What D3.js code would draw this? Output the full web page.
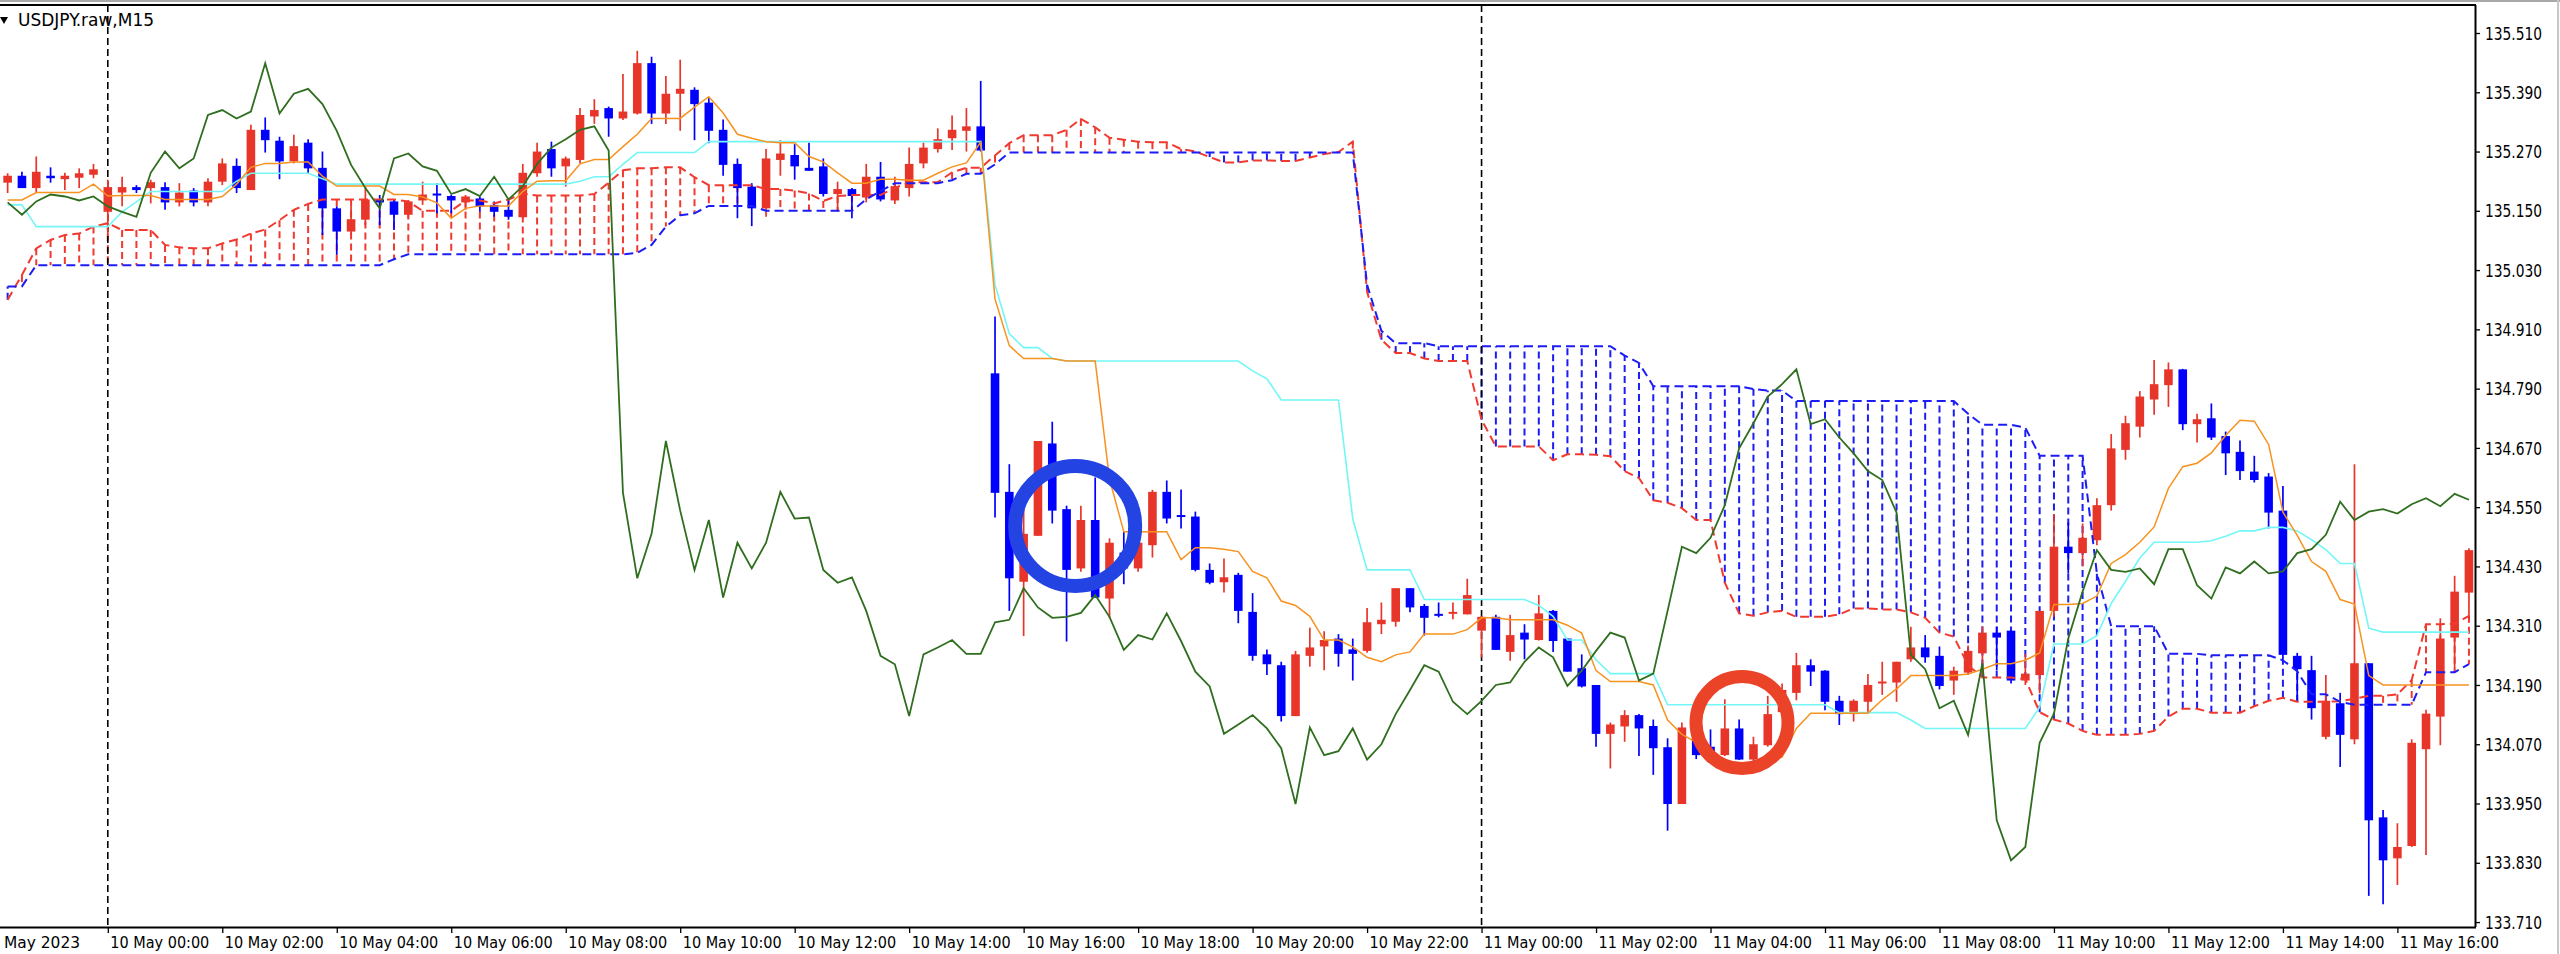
<!DOCTYPE html>
<html><head><meta charset="utf-8">
<script src="https://cdn.jsdelivr.net/npm/d3@7"></script>
<style>html,body{margin:0;padding:0;background:#fff;overflow:hidden}</style>
</head><body>
<svg id="c" width="2560" height="954" xmlns="http://www.w3.org/2000/svg"></svg>
<script>
// ---- DATA (bar index -7 .. 165, M15 bars, index 0 = 10 May 00:00) ----
const firstBar = -7;
const opens = [
135.207,135.221,135.196,135.221,135.214,135.217,135.223,135.148,135.187,135.198,
135.196,135.198,135.167,135.191,135.167,135.209,135.241,135.192,135.314,135.292,
135.250,135.288,135.237,135.155,135.108,135.132,135.173,135.169,135.142,135.171,
135.183,135.180,135.167,135.175,135.162,135.152,135.137,135.226,135.275,135.240,
135.253,135.341,135.358,135.337,135.347,135.449,135.347,135.387,135.395,135.369,
135.314,135.245,135.199,135.155,135.253,135.263,135.237,135.240,135.184,135.194,
135.177,135.219,135.171,135.196,135.246,135.275,135.297,135.312,135.321,134.821,
134.581,134.399,134.492,134.679,134.546,134.426,134.524,134.365,134.458,134.426,
134.473,134.581,134.532,134.531,134.423,134.398,134.413,134.338,134.252,134.230,
134.127,134.249,134.268,134.284,134.262,134.259,134.313,134.318,134.386,134.350,
134.332,134.333,134.333,134.300,134.328,134.257,134.296,134.281,134.340,134.284,
134.224,134.190,134.091,134.106,134.129,134.107,134.064,133.949,134.100,134.065,
134.048,134.102,134.039,134.068,134.135,134.174,134.230,134.219,134.158,134.131,
134.156,134.193,134.195,134.242,134.266,134.249,134.199,134.215,134.254,134.296,
134.300,134.199,134.210,134.340,134.470,134.457,134.483,134.554,134.666,134.713,
134.768,134.797,134.829,134.718,134.730,134.694,134.662,134.622,134.612,134.543,
134.249,134.220,134.085,134.153,134.080,134.234,133.922,133.839,133.864,134.060,
134.126,134.286,134.377];
const highs = [
135.226,135.229,135.260,135.238,135.227,135.236,135.245,135.213,135.219,135.202,
135.213,135.208,135.206,135.196,135.216,135.256,135.256,135.324,135.339,135.300,
135.304,135.295,135.270,135.159,135.159,135.198,135.182,135.172,135.172,135.209,
135.206,135.182,135.182,135.179,135.169,135.175,135.245,135.288,135.290,135.260,
135.358,135.376,135.361,135.427,135.474,135.462,135.423,135.456,135.400,135.378,
135.335,135.256,135.206,135.275,135.293,135.285,135.288,135.256,135.209,135.196,
135.245,135.249,135.219,135.278,135.288,135.317,135.343,135.358,135.413,134.936,
134.637,134.558,134.684,134.723,134.553,134.553,134.610,134.487,134.500,134.480,
134.585,134.604,134.586,134.541,134.436,134.446,134.417,134.376,134.262,134.237,
134.259,134.306,134.299,134.293,134.284,134.346,134.357,134.386,134.386,134.354,
134.357,134.357,134.405,134.330,134.332,134.332,134.313,134.372,134.342,134.284,
134.252,134.190,134.114,134.139,134.131,134.120,134.082,134.114,134.110,134.100,
134.161,134.120,134.085,134.168,134.193,134.255,134.242,134.220,134.168,134.161,
134.212,134.237,134.237,134.308,134.291,134.268,134.227,134.270,134.309,134.308,
134.300,134.253,134.340,134.536,134.519,134.517,134.568,134.698,134.735,134.785,
134.848,134.843,134.830,134.739,134.760,134.703,134.685,134.654,134.619,134.593,
134.255,134.249,134.210,134.174,134.637,134.234,133.937,133.910,134.080,134.140,
134.325,134.411,134.467];
const lows = [
135.186,135.196,135.186,135.207,135.192,135.196,135.216,135.101,135.159,135.186,
135.165,135.152,135.159,135.159,135.159,135.202,135.186,135.192,135.268,135.214,
135.246,135.226,135.101,135.061,135.101,135.121,135.121,135.111,135.135,135.162,
135.145,135.145,135.152,135.148,135.138,135.132,135.135,135.219,135.219,135.199,
135.246,135.326,135.300,135.334,135.345,135.326,135.326,135.312,135.293,135.287,
135.221,135.135,135.119,135.138,135.221,135.213,135.231,135.179,135.148,135.135,
135.167,135.169,135.164,135.179,135.236,135.268,135.273,135.270,135.270,134.529,
134.340,134.289,134.492,134.517,134.278,134.419,134.367,134.325,134.394,134.419,
134.448,134.517,134.507,134.420,134.394,134.377,134.315,134.239,134.210,134.116,
134.127,134.227,134.220,134.227,134.199,134.255,134.293,134.308,134.337,134.290,
134.327,134.323,134.333,134.246,134.261,134.239,134.242,134.280,134.257,134.217,
134.185,134.065,134.021,134.075,134.046,134.008,133.895,133.949,134.040,134.052,
134.046,134.038,134.011,134.065,134.130,134.159,134.188,134.139,134.109,134.116,
134.134,134.170,134.156,134.237,134.235,134.181,134.170,134.210,134.210,134.220,
134.193,134.190,134.173,134.328,134.416,134.430,134.473,134.543,134.646,134.691,
134.737,134.753,134.706,134.681,134.686,134.615,134.605,134.600,134.507,134.237,
134.156,134.120,134.080,134.024,134.070,133.763,133.746,133.785,133.862,133.846,
134.068,134.224,134.323];
const closes = [
135.221,135.196,135.229,135.216,135.221,135.226,135.234,135.198,135.198,135.192,
135.208,135.167,135.187,135.167,135.209,135.246,135.196,135.314,135.293,135.250,
135.281,135.236,135.155,135.108,135.133,135.173,135.167,135.142,135.169,135.183,
135.179,135.171,135.179,135.159,135.148,135.138,135.227,135.270,135.236,135.256,
135.344,135.354,135.337,135.351,135.449,135.347,135.387,135.397,135.366,135.312,
135.243,135.196,135.155,135.256,135.266,135.240,135.231,135.184,135.194,135.180,
135.219,135.173,135.200,135.245,135.278,135.295,135.314,135.321,135.272,134.579,
134.406,134.496,134.684,134.543,134.423,134.524,134.367,134.478,134.426,134.478,
134.581,134.527,134.529,134.423,134.397,134.408,134.340,134.249,134.232,134.127,
134.252,134.266,134.281,134.253,134.253,134.317,134.322,134.386,134.347,134.326,
134.328,134.336,134.372,134.328,134.261,134.291,134.282,134.335,134.279,134.217,
134.187,134.091,134.110,134.129,134.102,134.062,133.949,134.104,134.048,134.056,
134.102,134.039,134.070,134.131,134.180,134.230,134.217,134.156,134.131,134.158,
134.190,134.195,134.237,134.266,134.246,134.188,134.219,134.259,134.296,134.286,
134.199,134.213,134.340,134.470,134.457,134.488,134.554,134.669,134.720,134.774,
134.799,134.829,134.718,134.728,134.691,134.659,134.623,134.605,134.539,134.251,
134.222,134.143,134.158,134.089,134.234,133.916,133.835,133.862,134.073,134.132,
134.284,134.379,134.463];
const tenkan = [
135.172,135.172,135.187,135.187,135.187,135.187,135.204,135.180,135.181,135.181,
135.181,135.173,135.173,135.173,135.173,135.179,135.204,135.238,135.246,135.246,
135.249,135.249,135.220,135.200,135.200,135.200,135.200,135.183,135.183,135.178,
135.166,135.135,135.155,135.160,135.160,135.160,135.189,135.210,135.211,135.211,
135.245,135.254,135.254,135.280,135.305,135.337,135.337,135.337,135.360,135.381,
135.348,135.305,135.297,135.290,135.288,135.288,135.260,135.249,135.227,135.206,
135.206,135.214,135.214,135.212,135.212,135.226,135.239,135.247,135.289,134.971,
134.877,134.851,134.851,134.851,134.846,134.846,134.846,134.607,134.500,134.500,
134.500,134.500,134.444,134.468,134.468,134.465,134.460,134.420,134.407,134.360,
134.351,134.329,134.281,134.281,134.267,134.246,134.237,134.251,134.257,134.293,
134.293,134.293,134.302,134.326,134.326,134.322,134.322,134.322,134.322,134.311,
134.295,134.219,134.197,134.197,134.197,134.190,134.119,134.090,134.074,134.043,
134.028,134.028,134.028,134.032,134.044,134.102,134.133,134.133,134.133,134.133,
134.133,134.160,134.182,134.209,134.209,134.209,134.209,134.212,134.222,134.233,
134.233,134.240,134.255,134.353,134.353,134.355,134.370,134.436,134.454,134.479,
134.510,134.588,134.632,134.639,134.660,134.695,134.726,134.724,134.677,134.540,
134.493,134.440,134.420,134.363,134.354,134.209,134.190,134.190,134.190,134.190,
134.190,134.190,134.190];
const kijun = [
135.162,135.162,135.118,135.118,135.118,135.118,135.118,135.118,135.148,135.168,
135.189,135.189,135.189,135.189,135.189,135.189,135.210,135.226,135.226,135.226,
135.226,135.226,135.215,135.204,135.204,135.204,135.204,135.204,135.204,135.204,
135.204,135.204,135.204,135.204,135.204,135.204,135.204,135.204,135.204,135.204,
135.210,135.219,135.219,135.244,135.268,135.268,135.268,135.268,135.268,135.290,
135.290,135.290,135.290,135.290,135.290,135.290,135.290,135.290,135.290,135.290,
135.290,135.290,135.290,135.290,135.290,135.290,135.290,135.290,135.290,135.000,
134.901,134.873,134.873,134.851,134.846,134.846,134.846,134.846,134.846,134.846,
134.846,134.846,134.846,134.846,134.846,134.846,134.846,134.826,134.810,134.767,
134.767,134.767,134.767,134.767,134.526,134.423,134.423,134.423,134.423,134.363,
134.363,134.363,134.363,134.363,134.363,134.363,134.363,134.351,134.329,134.281,
134.281,134.241,134.213,134.213,134.213,134.213,134.150,134.150,134.150,134.150,
134.150,134.150,134.150,134.150,134.150,134.150,134.150,134.150,134.134,134.134,
134.134,134.134,134.134,134.119,134.102,134.102,134.102,134.102,134.102,134.102,
134.102,134.102,134.145,134.273,134.273,134.273,134.290,134.355,134.400,134.447,
134.479,134.479,134.479,134.479,134.482,134.491,134.502,134.502,134.509,134.509,
134.502,134.484,134.464,134.436,134.436,134.305,134.297,134.297,134.297,134.297,
134.297,134.297,134.297];
const spanA = [
134.970,135.020,135.074,135.091,135.101,135.104,135.118,135.125,135.111,135.111,
135.111,135.081,135.076,135.074,135.074,135.084,135.092,135.104,135.112,135.131,
135.152,135.164,135.173,135.173,135.173,135.173,135.173,135.173,135.169,135.150,
135.150,135.150,135.171,135.171,135.165,135.173,135.185,135.181,135.181,135.181,
135.181,135.184,135.207,135.232,135.236,135.236,135.238,135.238,135.218,135.202,
135.202,135.202,135.202,135.194,135.194,135.191,135.185,135.170,135.180,135.182,
135.182,135.182,135.197,135.207,135.208,135.208,135.228,135.237,135.237,135.262,
135.287,135.303,135.303,135.303,135.314,135.336,135.319,135.298,135.294,135.290,
135.289,135.289,135.275,135.270,135.259,135.248,135.248,135.252,135.252,135.251,
135.251,135.258,135.265,135.269,135.290,134.986,134.889,134.862,134.862,134.851,
134.846,134.846,134.846,134.727,134.673,134.673,134.673,134.673,134.645,134.657,
134.657,134.656,134.653,134.623,134.609,134.564,134.559,134.548,134.524,134.524,
134.397,134.335,134.330,134.337,134.340,134.328,134.328,134.328,134.333,134.345,
134.345,134.343,134.343,134.337,134.326,134.296,134.288,134.230,134.205,134.205,
134.205,134.202,134.135,134.120,134.112,134.097,134.089,134.089,134.089,134.091,
134.097,134.126,134.142,134.142,134.134,134.134,134.134,134.147,134.158,134.164,
134.156,134.156,134.156,134.157,134.162,134.168,134.168,134.171,134.200,134.313,
134.313,134.314,134.330];
const spanB = [
134.997,134.997,135.040,135.040,135.040,135.040,135.040,135.040,135.040,135.040,
135.040,135.040,135.040,135.040,135.040,135.040,135.040,135.040,135.040,135.040,
135.040,135.040,135.040,135.040,135.040,135.040,135.040,135.052,135.062,135.062,
135.062,135.062,135.062,135.062,135.062,135.062,135.062,135.062,135.062,135.062,
135.062,135.062,135.062,135.062,135.065,135.081,135.118,135.141,135.145,135.160,
135.160,135.160,135.160,135.150,135.150,135.150,135.150,135.150,135.150,135.150,
135.173,135.190,135.206,135.206,135.206,135.206,135.212,135.225,135.225,135.244,
135.268,135.268,135.268,135.268,135.268,135.268,135.268,135.268,135.268,135.268,
135.268,135.268,135.268,135.268,135.268,135.268,135.268,135.268,135.268,135.268,
135.268,135.268,135.268,135.268,135.268,135.000,134.907,134.882,134.882,134.882,
134.876,134.876,134.876,134.876,134.876,134.876,134.876,134.876,134.876,134.876,
134.876,134.876,134.876,134.857,134.842,134.795,134.795,134.795,134.795,134.795,
134.795,134.795,134.789,134.786,134.786,134.765,134.765,134.765,134.765,134.765,
134.765,134.765,134.765,134.765,134.765,134.765,134.765,134.739,134.717,134.717,
134.717,134.711,134.654,134.654,134.654,134.654,134.416,134.309,134.309,134.309,
134.309,134.253,134.253,134.253,134.250,134.250,134.250,134.250,134.250,134.240,
134.218,134.171,134.171,134.156,134.150,134.150,134.150,134.150,134.150,134.216,
134.216,134.216,134.232];
const chikou = [
135.167,135.142,135.169,135.183,135.179,135.171,135.179,135.159,135.148,135.138,
135.227,135.270,135.236,135.256,135.344,135.354,135.337,135.351,135.449,135.347,
135.387,135.397,135.366,135.312,135.243,135.196,135.155,135.256,135.266,135.240,
135.231,135.184,135.194,135.180,135.219,135.173,135.200,135.245,135.278,135.295,
135.314,135.321,135.272,134.579,134.406,134.496,134.684,134.543,134.423,134.524,
134.367,134.478,134.426,134.478,134.581,134.527,134.529,134.423,134.397,134.408,
134.340,134.249,134.232,134.127,134.252,134.266,134.281,134.253,134.253,134.317,
134.322,134.386,134.347,134.326,134.328,134.336,134.372,134.328,134.261,134.291,
134.282,134.335,134.279,134.217,134.187,134.091,134.110,134.129,134.102,134.062,
133.949,134.104,134.048,134.056,134.102,134.039,134.070,134.131,134.180,134.230,
134.217,134.156,134.131,134.158,134.190,134.195,134.237,134.266,134.246,134.188,
134.219,134.259,134.296,134.286,134.199,134.213,134.340,134.470,134.457,134.488,
134.554,134.669,134.720,134.774,134.799,134.829,134.718,134.728,134.691,134.659,
134.623,134.605,134.539,134.251,134.222,134.143,134.158,134.089,134.234,133.916,
133.835,133.862,134.073,134.132,134.284,134.379,134.463,134.423,134.419,134.426,
134.394,134.465,134.465,134.392,134.365,134.428,134.416,134.440,134.416,134.420,
134.457,134.465,134.494,134.561,134.524,134.541,134.546,134.537,134.556,134.568,
134.552,134.577,134.565];
const priceTicks = ["135.510","135.390","135.270","135.150","135.030","134.910","134.790","134.670",
  "134.550","134.430","134.310","134.190","134.070","133.950","133.830","133.710"];
const timeTickBars = [0,8,16,24,32,40,48,56,64,72,80,88,96,104,112,120,128,136,144,152,160];
const timeLabels = ["10 May 00:00","10 May 02:00","10 May 04:00","10 May 06:00","10 May 08:00",
  "10 May 10:00","10 May 12:00","10 May 14:00","10 May 16:00","10 May 18:00","10 May 20:00",
  "10 May 22:00","11 May 00:00","11 May 02:00","11 May 04:00","11 May 06:00","11 May 08:00",
  "11 May 10:00","11 May 12:00","11 May 14:00","11 May 16:00"];
const firstDateLabel = "May 2023";
const daySeparatorBars = [0, 96];
const title = "USDJPY.raw,M15";
// annotation circles drawn on the chart (bar index, price)
const marks = [{bar: 67.6, price: 134.512, color: "#2343e2"}, {bar: 114.2, price: 134.114, color: "#ea4328"}];

// ---- DRAW ----
const W = 2560, H = 954, PR = 2475, PT = 5, PB = 927;
const FONT = "'Liberation Sans Narrow','DejaVu Sans Condensed','Arial Narrow',sans-serif";
const svg = d3.select("#c");
const x = d3.scaleLinear().domain([0, 160]).range([107.8, 2397.4]);
const y = d3.scaleLinear().domain([133.70, 135.5667]).range([PB, PT]);
const bars = d3.range(closes.length).map(k => ({
  i: firstBar + k, o: opens[k], h: highs[k], l: lows[k], c: closes[k],
  t: tenkan[k], kj: kijun[k], a: spanA[k], b: spanB[k], ch: chikou[k]
}));

svg.append("rect").attr("width", W).attr("height", H).attr("fill", "#fff");
svg.append("defs").append("clipPath").attr("id", "plot")
  .append("rect").attr("x", 0).attr("y", PT).attr("width", PR).attr("height", PB - PT);
const g = svg.append("g").attr("clip-path", "url(#plot)");

const RED = "#e8352a", BLUE = "#0000ff";
const SA = "#f03a30", SB = "#1c1cf5";

// cloud hatching
g.append("g").selectAll("line").data(bars).join("line")
  .attr("x1", d => x(d.i)).attr("x2", d => x(d.i))
  .attr("y1", d => y(d.a)).attr("y2", d => y(d.b))
  .attr("stroke", d => d.a >= d.b ? SA : SB)
  .attr("stroke-width", 2).attr("stroke-dasharray", "7,4");

// day separators
g.append("g").selectAll("line").data(daySeparatorBars).join("line")
  .attr("x1", d => x(d)).attr("x2", d => x(d)).attr("y1", PT).attr("y2", PB)
  .attr("stroke", "#000").attr("stroke-width", 1.6).attr("stroke-dasharray", "7,4");

// candles
const cg = g.append("g");
cg.selectAll("line").data(bars).join("line")
  .attr("x1", d => x(d.i)).attr("x2", d => x(d.i))
  .attr("y1", d => y(d.h)).attr("y2", d => y(d.l))
  .attr("stroke", d => d.c >= d.o ? RED : BLUE).attr("stroke-width", 1.7);
cg.selectAll("rect").data(bars).join("rect")
  .attr("x", d => x(d.i) - 4.3).attr("width", 8.6)
  .attr("y", d => Math.min(y(d.o), y(d.c)) - (Math.abs(y(d.o) - y(d.c)) < 2 ? 1 : 0))
  .attr("height", d => Math.max(2, Math.abs(y(d.o) - y(d.c))))
  .attr("fill", d => d.c >= d.o ? RED : BLUE);

// indicator lines
const line = key => d3.line().x(d => x(d.i)).y(d => y(d[key]))(bars);
g.append("path").attr("d", line("a")).attr("fill", "none").attr("stroke", SA)
  .attr("stroke-width", 2).attr("stroke-dasharray", "9,5");
g.append("path").attr("d", line("b")).attr("fill", "none").attr("stroke", SB)
  .attr("stroke-width", 2).attr("stroke-dasharray", "9,5");
g.append("path").attr("d", line("kj")).attr("fill", "none").attr("stroke", "#74f6f6").attr("stroke-width", 1.6);
g.append("path").attr("d", line("t")).attr("fill", "none").attr("stroke", "#f7921f").attr("stroke-width", 1.5);
g.append("path").attr("d", line("ch")).attr("fill", "none").attr("stroke", "#2f6e1f").attr("stroke-width", 1.8);

// annotation circles
g.append("g").selectAll("circle").data(marks).join("circle")
  .attr("cx", d => x(d.bar)).attr("cy", d => y(d.price))
  .attr("r", (d, k) => k === 0 ? 60 : 46)
  .attr("fill", "none").attr("stroke", d => d.color).attr("stroke-width", (d, k) => k === 0 ? 14 : 13);

// frame
svg.append("rect").attr("x", 0).attr("y", 0).attr("width", W).attr("height", 2).attr("fill", "#a8a8a8");
svg.append("line").attr("x1", 0).attr("x2", PR + 1).attr("y1", PT).attr("y2", PT).attr("stroke", "#000").attr("stroke-width", 2);
svg.append("line").attr("x1", 2558).attr("x2", 2558).attr("y1", 0).attr("y2", H).attr("stroke", "#c8c8c8").attr("stroke-width", 2);

// price axis
const ya = svg.append("g").attr("transform", `translate(${PR},0)`)
  .call(d3.axisRight(y).tickValues(priceTicks.map(Number)).tickSize(5).tickPadding(5)
    .tickFormat((d, k) => priceTicks[k]));
ya.select(".domain").attr("stroke", "#000").attr("stroke-width", 2).attr("d", `M0.5,${PT}V${PB}`);
ya.selectAll(".tick line").attr("stroke", "#000").attr("stroke-width", 1.3);
ya.selectAll(".tick text").attr("font-family", FONT).attr("font-size", 17).attr("fill", "#000")
  .attr("dy", "0.36em").attr("textLength", 57).attr("lengthAdjust", "spacingAndGlyphs");

// time axis
const xa = svg.append("g").attr("transform", `translate(0,${PB})`)
  .call(d3.axisBottom(x).tickValues(timeTickBars).tickSize(6).tickPadding(4)
    .tickFormat((d, k) => timeLabels[k]));
xa.select(".domain").attr("stroke", "#000").attr("stroke-width", 2).attr("d", `M0,0.5H${PR + 1}`);
xa.selectAll(".tick line").attr("stroke", "#000").attr("stroke-width", 1.3);
xa.selectAll(".tick text").attr("font-family", FONT).attr("font-size", 16).attr("fill", "#000")
  .attr("text-anchor", "start").attr("x", 2).attr("dy", "0.71em")
  .attr("textLength", 99).attr("lengthAdjust", "spacingAndGlyphs");
svg.append("text").attr("x", 4).attr("y", PB + 10).attr("dy", "0.71em").attr("text-anchor", "start")
  .attr("font-family", FONT).attr("font-size", 16).attr("textLength", 76).attr("lengthAdjust", "spacingAndGlyphs")
  .text(firstDateLabel);

// title
svg.append("path").attr("d", "M0,17 L8,17 L4,24 Z").attr("fill", "#000");
svg.append("text").attr("x", 18).attr("y", 26).attr("font-family", FONT).attr("font-size", 17)
  .attr("textLength", 136).attr("lengthAdjust", "spacingAndGlyphs").attr("fill", "#000").text(title);
</script>
</body></html>
